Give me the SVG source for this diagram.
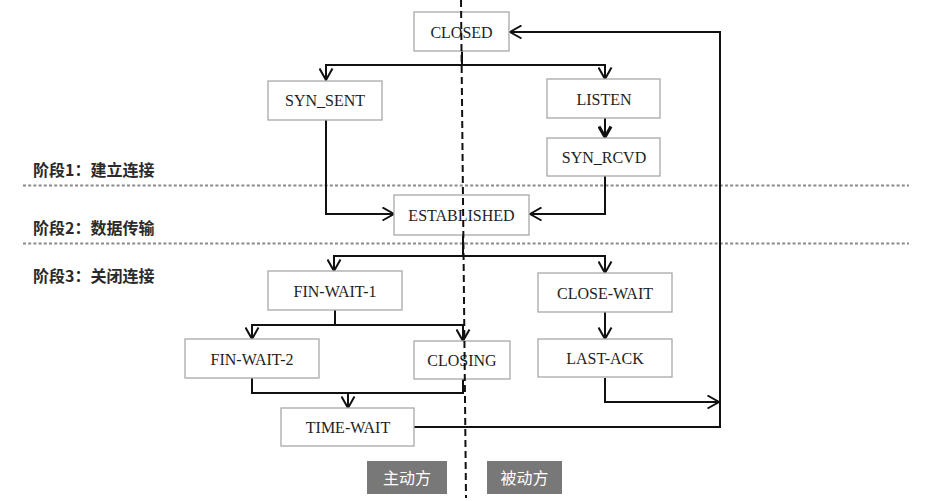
<svg xmlns="http://www.w3.org/2000/svg" width="941" height="501" viewBox="0 0 941 501">
<defs>
<style>
.box{fill:#fff;stroke:#a8a8a8;stroke-width:1.3}
.t{font-family:"Liberation Serif","Times New Roman",serif;font-size:16px;fill:#1e1e1e;text-anchor:middle}
.lab{font-family:"Noto Sans CJK SC",sans-serif;font-size:16px;font-weight:bold;fill:#2a2a2a}
.btn{fill:#787878}
.bt{font-family:"Noto Sans CJK SC",sans-serif;font-size:16px;fill:#fff;text-anchor:middle}
.c{fill:none;stroke:#111;stroke-width:2}
.dot{stroke:#8a8a8a;stroke-width:2;stroke-dasharray:3 2.2}
</style>
<marker id="a" viewBox="0 0 14 15" refX="12.5" refY="7.5" markerWidth="14" markerHeight="15" markerUnits="userSpaceOnUse" orient="auto">
<path d="M1,1 L12.5,7.5 L1,14" fill="none" stroke="#111" stroke-width="2"/>
</marker>
<marker id="ab" viewBox="0 0 14 15" refX="12" refY="7.5" markerWidth="14" markerHeight="15" markerUnits="userSpaceOnUse" orient="auto">
<path d="M1.5,1.5 L12,7.5 L1.5,13.5" fill="none" stroke="#111" stroke-width="3.2"/>
</marker>
</defs>
<rect width="941" height="501" fill="#fff"/>

<g id="phases">
<line class="dot" x1="23" y1="185.5" x2="909" y2="185.5"/>
<line class="dot" x1="23" y1="243.5" x2="909" y2="243.5"/>
<text class="lab" x="33" y="176">阶段1：建立连接</text>
<text class="lab" x="33" y="234">阶段2：数据传输</text>
<text class="lab" x="33" y="282">阶段3：关闭连接</text>
</g>

<g id="connectors">
<path class="c" d="M462,51 V65 H326 V80" marker-end="url(#a)"/>
<path class="c" d="M462,65 H605 V79" marker-end="url(#a)"/>
<path class="c" d="M605,118 V137" stroke-width="3" marker-end="url(#ab)"/>
<path class="c" d="M326,120 V214 H394" marker-end="url(#a)"/>
<path class="c" d="M605,176 V214 H530" marker-end="url(#a)"/>
<path class="c" d="M463,235 V256 H334 V271" marker-end="url(#a)"/>
<path class="c" d="M463,256 H605 V273" marker-end="url(#a)"/>
<path class="c" d="M335,310 V325 H252 V339" marker-end="url(#a)"/>
<path class="c" d="M335,325 H463 V341" marker-end="url(#a)"/>
<path class="c" d="M252,378 V393 H463 V379"/>
<path class="c" d="M348,393 V408" marker-end="url(#a)"/>
<path class="c" d="M605,312 V339" marker-end="url(#a)"/>
<path class="c" d="M605,378 V402 H719" marker-end="url(#a)"/>
<path class="c" d="M414,427 H720 V32 H510" marker-end="url(#a)"/>
</g>

<g id="CLOSED"><rect class="box" x="414" y="12" width="95" height="39"/><text class="t" x="461.5" y="37.5">CLOSED</text></g>
<g id="SYN_SENT"><rect class="box" x="268" y="81" width="114" height="39"/><text class="t" x="325" y="105.5">SYN_SENT</text></g>
<g id="LISTEN"><rect class="box" x="547" y="79" width="113" height="39"/><text class="t" x="604" y="104.5">LISTEN</text></g>
<g id="SYN_RCVD"><rect class="box" x="547" y="138" width="113" height="38"/><text class="t" x="604" y="163">SYN_RCVD</text></g>
<g id="ESTABLISHED"><rect class="box" x="394" y="195" width="135" height="40"/><text class="t" x="461.5" y="220.5">ESTABLISHED</text></g>
<g id="FIN-WAIT-1"><rect class="box" x="268" y="271" width="134" height="39"/><text class="t" x="335" y="296.5">FIN-WAIT-1</text></g>
<g id="CLOSE-WAIT"><rect class="box" x="538" y="273" width="134" height="39"/><text class="t" x="605" y="298.5">CLOSE-WAIT</text></g>
<g id="FIN-WAIT-2"><rect class="box" x="185" y="339" width="134" height="39"/><text class="t" x="252" y="364.5">FIN-WAIT-2</text></g>
<g id="CLOSING"><rect class="box" x="414" y="341" width="96" height="38"/><text class="t" x="462" y="365.5">CLOSING</text></g>
<g id="LAST-ACK"><rect class="box" x="538" y="339" width="134" height="38"/><text class="t" x="605" y="363.5">LAST-ACK</text></g>
<g id="TIME-WAIT"><rect class="box" x="281" y="408" width="133" height="38"/><text class="t" x="348" y="432.5">TIME-WAIT</text></g>

<g id="divider">
<line x1="461" y1="0" x2="466" y2="498" stroke="#111" stroke-width="2" stroke-dasharray="7 4"/>
</g>

<g id="active"><rect class="btn" x="367" y="461" width="80" height="33"/><text class="bt" x="407" y="483.5">主动方</text></g>
<g id="passive"><rect class="btn" x="487" y="461" width="75" height="33"/><text class="bt" x="524.5" y="483.5">被动方</text></g>
</svg>
